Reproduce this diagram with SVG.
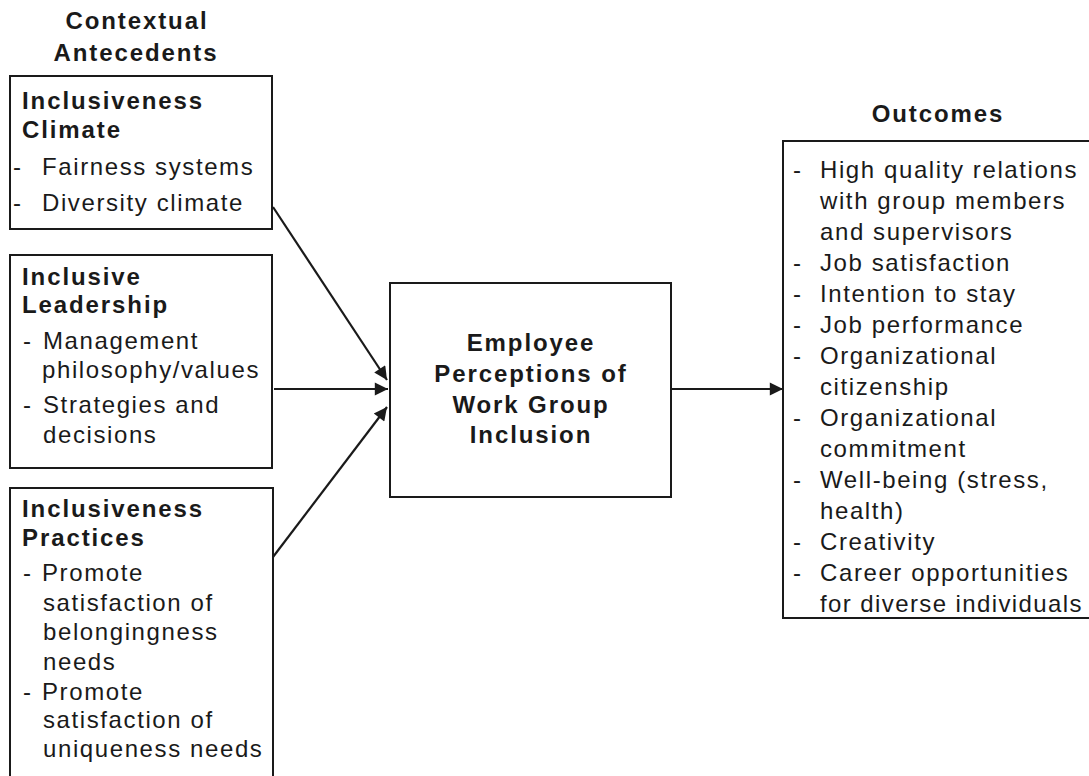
<svg xmlns="http://www.w3.org/2000/svg" width="1089" height="776" viewBox="0 0 1089 776">
<style>
text{font-family:"Liberation Sans",Arial,Helvetica,sans-serif;fill:#1a1a1a}
.t{font-size:24px;letter-spacing:1.6px}
.b{font-size:24px;font-weight:bold;letter-spacing:1.9px}
.box{fill:#fff;stroke:#1a1a1a;stroke-width:2}
.c{stroke:#1a1a1a;stroke-width:2.2;fill:none}
.m{text-anchor:middle}
</style>
<defs>
<marker id="ah" viewBox="0 0 10 10" refX="10" refY="5" markerWidth="7" markerHeight="6" markerUnits="strokeWidth" orient="auto">
<path d="M0,0 L10,5 L0,10 z" fill="#1a1a1a"/>
</marker>
</defs>
<rect width="1089" height="776" fill="#fff"/>
<g id="title-left">
<text class="b m" x="137" y="29">Contextual</text>
<text class="b m" x="136" y="61">Antecedents</text>
</g>
<g id="title-right">
<text class="b m" x="938" y="122">Outcomes</text>
</g>
<g id="climate">
<rect class="box" x="10" y="76" width="262" height="153"/>
<text class="b" x="22" y="109">Inclusiveness</text>
<text class="b" x="22" y="138">Climate</text>
<text class="t" y="175"><tspan x="13">- </tspan><tspan x="42">Fairness systems</tspan></text>
<text class="t" y="211"><tspan x="13">- </tspan><tspan x="42">Diversity climate</tspan></text>
</g>
<g id="leadership">
<rect class="box" x="10" y="255" width="262" height="213"/>
<text class="b" x="22" y="285">Inclusive</text>
<text class="b" x="22" y="313">Leadership</text>
<text class="t" y="349"><tspan x="23">- </tspan><tspan x="43">Management</tspan></text>
<text class="t" x="42" y="378">philosophy/values</text>
<text class="t" y="413"><tspan x="23">- </tspan><tspan x="43">Strategies and</tspan></text>
<text class="t" x="43" y="443">decisions</text>
</g>
<g id="practices">
<rect class="box" x="10" y="488" width="263" height="300"/>
<text class="b" x="22" y="517">Inclusiveness</text>
<text class="b" x="22" y="546">Practices</text>
<text class="t" y="581"><tspan x="23">- </tspan><tspan x="42">Promote</tspan></text>
<text class="t" x="43" y="611">satisfaction of</text>
<text class="t" x="43" y="640">belongingness</text>
<text class="t" x="43" y="670">needs</text>
<text class="t" y="700"><tspan x="23">- </tspan><tspan x="42">Promote</tspan></text>
<text class="t" x="43" y="728">satisfaction of</text>
<text class="t" x="43" y="757">uniqueness needs</text>
</g>
<g id="inclusion">
<rect class="box" x="390" y="283" width="281" height="214"/>
<text class="b m" x="531" y="351">Employee</text>
<text class="b m" x="531" y="382">Perceptions of</text>
<text class="b m" x="531" y="413">Work Group</text>
<text class="b m" x="531" y="443">Inclusion</text>
</g>
<g id="outcomes">
<rect class="box" x="783" y="141" width="320" height="477"/>
<text class="t" y="178"><tspan x="793">- </tspan><tspan x="820">High quality relations</tspan></text>
<text class="t" x="820" y="209">with group members</text>
<text class="t" x="820" y="240">and supervisors</text>
<text class="t" y="271"><tspan x="793">- </tspan><tspan x="820">Job satisfaction</tspan></text>
<text class="t" y="302"><tspan x="793">- </tspan><tspan x="820">Intention to stay</tspan></text>
<text class="t" y="333"><tspan x="793">- </tspan><tspan x="820">Job performance</tspan></text>
<text class="t" y="364"><tspan x="793">- </tspan><tspan x="820">Organizational</tspan></text>
<text class="t" x="820" y="395">citizenship</text>
<text class="t" y="426"><tspan x="793">- </tspan><tspan x="820">Organizational</tspan></text>
<text class="t" x="820" y="457">commitment</text>
<text class="t" y="488"><tspan x="793">- </tspan><tspan x="820">Well-being (stress,</tspan></text>
<text class="t" x="820" y="519">health)</text>
<text class="t" y="550"><tspan x="793">- </tspan><tspan x="820">Creativity</tspan></text>
<text class="t" y="581"><tspan x="793">- </tspan><tspan x="820">Career opportunities</tspan></text>
<text class="t" x="820" y="612" style="letter-spacing:1.4px">for diverse individuals</text>
</g>
<g id="connectors">
<line class="c" x1="273" y1="207" x2="387" y2="380" marker-end="url(#ah)"/>
<line class="c" x1="274" y1="389" x2="388" y2="389" marker-end="url(#ah)"/>
<line class="c" x1="273" y1="557" x2="387" y2="407" marker-end="url(#ah)"/>
<line class="c" x1="671" y1="389" x2="783" y2="389" marker-end="url(#ah)"/>
</g>
</svg>
